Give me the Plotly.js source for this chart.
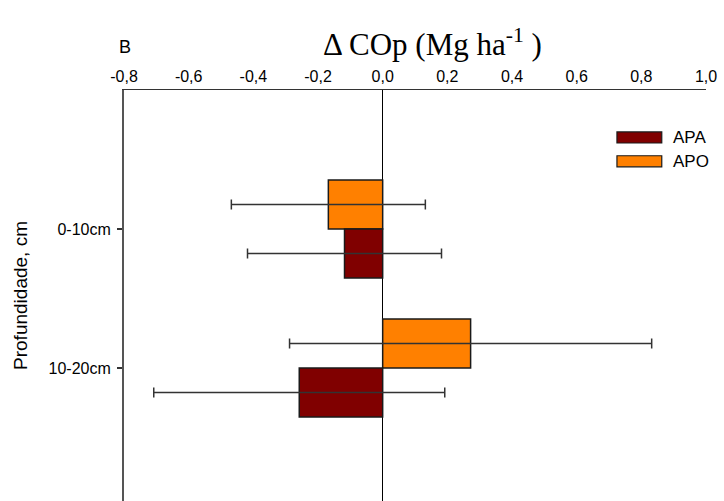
<!DOCTYPE html>
<html>
<head>
<meta charset="utf-8">
<script src="https://cdn.plot.ly/plotly-3.0.1.min.js"></script>
<style>
html,body{margin:0;padding:0;background:#fff;}
#chart{width:724px;height:501px;}
</style>
</head>
<body>
<div id="chart"></div>
<script>
var categories = ["0-10cm", "10-20cm"];
var seriesNames = ["APA", "APO"];
var apaValues = [-0.118, -0.258];
var apaErrors = [0.30, 0.45];
var apoValues = [-0.168, 0.272];
var apoErrors = [0.30, 0.56];
var xTicks = [-0.8, -0.6, -0.4, -0.2, 0.0, 0.2, 0.4, 0.6, 0.8, 1.0];
var xTickLabels = ["-0,8", "-0,6", "-0,4", "-0,2", "0,0", "0,2", "0,4", "0,6", "0,8", "1,0"];
var colors = {APA: "#800000", APO: "#FF8000"};

var sans = "Liberation Sans, Arial, sans-serif";

function barTrace(name, vals, errs) {
  return {
    type: "bar",
    orientation: "h",
    name: name,
    y: categories,
    x: vals,
    marker: {color: colors[name], line: {color: "#1a1a1a", width: 1.5}},
    error_x: {type: "data", array: errs, visible: true, color: "#333333", thickness: 1.5, width: 5},
    showlegend: false,
    hoverinfo: "x+y+name"
  };
}

var traces = [
  barTrace(seriesNames[1], apoValues, apoErrors),
  barTrace(seriesNames[0], apaValues, apaErrors)
];

// custom legend (wide swatches) in paper coordinates
var legendRows = [
  {name: seriesNames[0], y0: 0.871, y1: 0.898},
  {name: seriesNames[1], y0: 0.813, y1: 0.840}
];
var shapes = legendRows.map(function (r) {
  return {type: "rect", xref: "paper", yref: "paper", x0: 0.847, x1: 0.924, y0: r.y0, y1: r.y1,
          fillcolor: colors[r.name], line: {color: "#1a1a1a", width: 1.2}};
});
var annotations = legendRows.map(function (r) {
  return {xref: "paper", yref: "paper", x: 0.94, y: (r.y0 + r.y1) / 2, xanchor: "left", yanchor: "middle",
          text: r.name, showarrow: false, font: {family: sans, size: 17, color: "#000"}};
});
annotations.push({xref: "paper", yref: "paper", x: 0.002, y: 1 + 43 / 411, xanchor: "center", yanchor: "middle",
                  text: "B", showarrow: false, font: {family: sans, size: 18, color: "#000"}});

var layout = {
  width: 724, height: 501,
  margin: {l: 124, r: 18, t: 90, b: 0, pad: 0},
  paper_bgcolor: "#fff", plot_bgcolor: "#fff",
  barmode: "group",
  bargap: 0.295,
  bargroupgap: 0,
  title: {
    text: "Δ COp (Mg ha<sup>-1</sup>\u00A0)",
    xref: "paper", x: 0.53, xanchor: "center",
    yref: "container", y: 1 - 44 / 501, yanchor: "middle",
    font: {family: "Liberation Serif, Times New Roman, serif", size: 31, color: "#000"}
  },
  xaxis: {
    side: "top",
    range: [-0.8, 1.0],
    tickvals: xTicks,
    ticktext: xTickLabels,
    ticks: "",
    showgrid: false,
    showline: true, linecolor: "#333", linewidth: 1.2,
    zeroline: true, zerolinecolor: "#000", zerolinewidth: 1.5,
    tickfont: {family: sans, size: 16, color: "#000"},
    fixedrange: true
  },
  yaxis: {
    type: "category",
    range: [1.957, -1],
    ticks: "outside", ticklen: 5, tickcolor: "#333", tickwidth: 1.2,
    ticklabelstandoff: 3,
    showgrid: false,
    showline: true, linecolor: "#555", linewidth: 2,
    tickfont: {family: sans, size: 16, color: "#000"},
    title: {text: "Profundidade, cm", standoff: 16, font: {family: sans, size: 19, color: "#000"}},
    fixedrange: true
  },
  shapes: shapes,
  annotations: annotations,
  showlegend: false
};

Plotly.newPlot("chart", traces, layout, {displayModeBar: false, staticPlot: true});
</script>
</body>
</html>
